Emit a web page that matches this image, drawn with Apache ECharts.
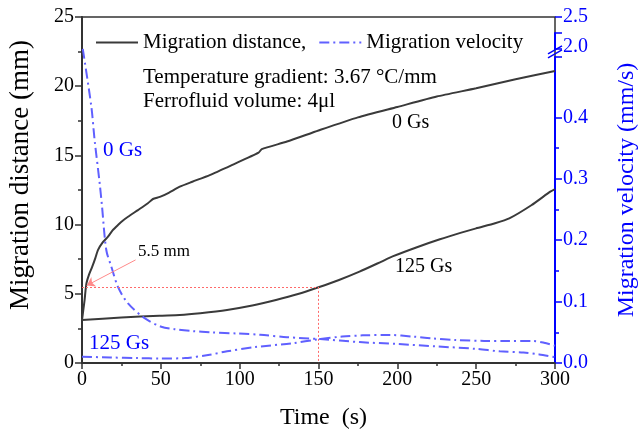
<!DOCTYPE html>
<html><head><meta charset="utf-8">
<script src="https://cdn.jsdelivr.net/npm/echarts@6/dist/echarts.min.js"></script>
<style>html,body{margin:0;padding:0;background:#fff}#c{width:638px;height:432px}</style>
</head><body><div id="c"></div>
<script>
// Migration distance, 0 Gs
const timeDist0 = [0, 0.8, 1.7, 2.2, 2.9, 4.5, 6.5, 8.5, 10.1, 13, 16.5, 19.5, 22.8, 26, 29.2, 35.5, 41.8, 45, 49.4, 55, 62, 70, 81, 95, 112, 114, 130, 150, 175, 200, 225, 250, 275, 300];
const dist0 = [3.1, 3.8, 4.6, 5.2, 5.8, 6.4, 6.96, 7.6, 8.16, 8.7, 9.13, 9.6, 9.97, 10.3, 10.57, 11.05, 11.54, 11.85, 12.0, 12.3, 12.74, 13.1, 13.58, 14.3, 15.2, 15.45, 16.0, 16.8, 17.75, 18.5, 19.25, 19.85, 20.5, 21.1];
// Migration distance, 125 Gs
const timeDist125 = [0, 25, 49, 62, 75, 92, 108, 123, 137, 150, 163, 176, 190, 197, 212, 227, 240, 250, 262, 271, 285, 297, 300];
const dist125 = [3.1, 3.28, 3.42, 3.47, 3.6, 3.83, 4.15, 4.55, 4.98, 5.47, 6.0, 6.6, 7.33, 7.7, 8.35, 8.94, 9.4, 9.73, 10.1, 10.45, 11.4, 12.38, 12.57];
// Migration velocity, 0 Gs
const timeVel0 = [0.5, 5.9, 8, 11.2, 12.7, 15.4, 18.6, 22.8, 29.2, 39.7, 50.3, 58.7, 70, 82, 99, 113, 130, 151, 176, 200, 225, 250, 265, 280, 290, 300];
const vel0 = [2.0, 0.418, 0.363, 0.293, 0.255, 0.184, 0.157, 0.124, 0.097, 0.073, 0.059, 0.055, 0.052, 0.050, 0.048, 0.046, 0.042, 0.039, 0.034, 0.031, 0.027, 0.023, 0.019, 0.017, 0.014, 0.0095];
// Migration velocity, 125 Gs
const timeVel125 = [0, 18, 35, 50, 65, 80, 92, 110, 133, 150, 165, 178, 195, 210, 222, 237, 255, 269, 286, 293, 300];
const vel125 = [0.0103, 0.009, 0.008, 0.0073, 0.008, 0.013, 0.019, 0.026, 0.032, 0.0386, 0.043, 0.045, 0.0456, 0.043, 0.040, 0.0375, 0.036, 0.036, 0.0359, 0.033, 0.028];
// tick labels
const rightTickLabels = [0, 0.1, 0.2, 0.3, 0.4, 2.0, 2.5];
// annotation
const markValue = 5.5, markTime = 150;

const FONT = '"Liberation Serif", "Times New Roman", serif';
const BLUE = '#0000ff', VBLUE = '#6060ff', DARK = '#3a3a3a', AX = '#333';
const zip = (a, b) => a.map((v, i) => [v, b[i]]);
const chart = echarts.init(document.getElementById('c'));

const dashDot = [10, 4, 2, 4];
const option = {
  animation: false,
  grid: {left: 82, right: 83, top: 17, bottom: 69, outerBoundsMode: 'none', containLabel: false,
    show: true, borderColor: AX, borderWidth: 1.5, backgroundColor: 'transparent'},
  legend: {
    left: 90, top: 27, itemWidth: 42, itemHeight: 10, itemGap: 12,
    itemStyle: {opacity: 0},
    textStyle: {fontFamily: FONT, fontSize: 21, color: '#000'},
    data: ['Migration distance,', 'Migration velocity']
  },
  xAxis: {
    type: 'value', min: 0, max: 300, interval: 50,
    axisLine: {onZero: false, lineStyle: {color: AX, width: 2}},
    axisTick: {length: 6, lineStyle: {color: AX, width: 1.5}},
    minorTick: {show: true, splitNumber: 2, length: 3, lineStyle: {color: AX, width: 1.5}},
    splitLine: {show: false},
    axisLabel: {color: '#000', fontFamily: FONT, fontSize: 20, margin: 7},
    name: 'Time  (s)', nameLocation: 'middle', nameGap: 43,
    nameTextStyle: {fontFamily: FONT, fontSize: 24, color: '#000', padding: [0, 0, 0, 10]}
  },
  yAxis: [{
    type: 'value', min: 0, max: 25, interval: 5, position: 'left',
    axisLine: {show: true, onZero: false, lineStyle: {color: AX, width: 2}},
    axisTick: {show: true, length: 7, lineStyle: {color: AX, width: 1.5}},
    minorTick: {show: true, splitNumber: 2, length: 4, lineStyle: {color: AX, width: 1.5}},
    splitLine: {show: false},
    axisLabel: {color: '#000', fontFamily: FONT, fontSize: 20, margin: 8},
    name: 'Migration distance (mm)', nameLocation: 'middle', nameGap: 48,
    nameTextStyle: {fontFamily: FONT, fontSize: 27, color: '#000', padding: [0, 0, 0, 30]}
  }, {
    type: 'value', min: 0, max: 2.5, interval: 0.1, position: 'right',
    breaks: [
      {start: 0.499, end: 1.9995, gap: 0.012},
      {start: 2.026, end: 2.4999, gap: 0.0259}
    ],
    breakArea: {show: false},
    axisLine: {show: true, onZero: false, lineStyle: {color: BLUE, width: 2}},
    axisTick: {show: true, length: 7, lineStyle: {color: BLUE, width: 1.5}},
    minorTick: {show: true, splitNumber: 2, length: 4, lineStyle: {color: BLUE, width: 1.5}},
    splitLine: {show: false},
    axisLabel: {color: BLUE, fontFamily: FONT, fontSize: 20, margin: 8, showMaxLabel: true, showMinLabel: true, hideOverlap: false,
      formatter: v => rightTickLabels.some(r => Math.abs(r - v) < 2e-3) ? Number(v).toFixed(1) : ''},
    name: 'Migration velocity (mm/s)', nameLocation: 'middle', nameGap: 60,
    nameTextStyle: {fontFamily: FONT, fontSize: 24, color: BLUE}
  }],
  series: [{
    name: 'Migration distance,', type: 'line', yAxisIndex: 0, symbol: 'none', smooth: 0.2,
    lineStyle: {color: DARK, width: 2}, itemStyle: {color: DARK},
    data: zip(timeDist0, dist0)
  }, {
    name: 'Migration distance,', type: 'line', yAxisIndex: 0, symbol: 'none', smooth: 0.2,
    lineStyle: {color: DARK, width: 2}, itemStyle: {color: DARK},
    data: zip(timeDist125, dist125),
    markLine: {
      silent: true, animation: false, label: {show: false}, symbol: 'none',
      lineStyle: {color: '#ff6a6a', type: [2, 2], width: 1},
      data: [
        [{coord: [0, markValue]}, {coord: [markTime, markValue]}],
        [{coord: [markTime, markValue]}, {coord: [markTime, 0]}],
        [{coord: [34, 7.45], symbol: 'none', lineStyle: {type: 'solid', color: '#ff8a8a', width: 1}},
         {coord: [3, 5.6], symbol: 'arrow', symbolSize: 8, itemStyle: {color: '#ff1010'}, lineStyle: {type: 'solid', color: '#ff8a8a', width: 1}}]
      ]
    }
  }, {
    name: 'Migration velocity', type: 'line', yAxisIndex: 1, symbol: 'none', smooth: 0.3,
    lineStyle: {color: VBLUE, width: 2, type: dashDot}, itemStyle: {color: VBLUE},
    data: zip(timeVel0, vel0)
  }, {
    name: 'Migration velocity', type: 'line', yAxisIndex: 1, symbol: 'none', smooth: 0.3,
    lineStyle: {color: VBLUE, width: 2, type: dashDot}, itemStyle: {color: VBLUE},
    data: zip(timeVel125, vel125)
  }]
};
chart.setOption(option);

// break mark and annotation texts
const bp = chart.convertToPixel({yAxisIndex: 1}, 2.0);
const ax = chart.convertToPixel({xAxisIndex: 0}, 300);
const bm = bp + 4;
const txt = (x, y, text, size, color) => ({type: 'text', x, y, silent: true,
  style: {text, font: size + 'px ' + FONT, fill: color, textVerticalAlign: 'middle'}});
chart.setOption({graphic: [
  {type: 'line', silent: true, shape: {x1: ax - 7, y1: bm + 5, x2: ax + 7, y2: bm - 3}, style: {stroke: BLUE, lineWidth: 1.5}},
  {type: 'line', silent: true, shape: {x1: ax - 7, y1: bm + 1, x2: ax + 7, y2: bm - 7}, style: {stroke: BLUE, lineWidth: 1.5}},
  txt(143, 77, 'Temperature gradient: 3.67 \u00B0C/mm', 21, '#000'),
  txt(143, 101, 'Ferrofluid volume: 4\u03BCl', 21, '#000'),
  txt(103, 150, '0 Gs', 21, BLUE),
  txt(89, 343, '125 Gs', 21, BLUE),
  txt(392, 123, '0 Gs', 20, '#000'),
  txt(395, 267, '125 Gs', 20, '#000'),
  txt(138, 252, '5.5 mm', 17, '#000')
]});
</script></body></html>
